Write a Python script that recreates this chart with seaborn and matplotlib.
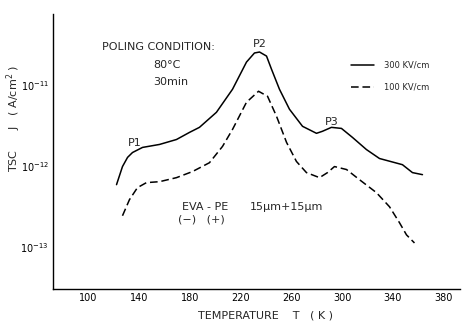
import matplotlib
matplotlib.use("Agg")
import matplotlib.pyplot as plt
import seaborn as sns
import pandas as pd
from matplotlib.ticker import FixedLocator, NullLocator, FixedFormatter

# --- data ---
temp_300 = [122.1, 126.8, 130.8, 134.7, 142.6, 156.0, 169.4, 179.7, 187.5, 200.9,
            213.6, 224.6, 230.9, 234.9, 240.4, 244.3, 250.6, 258.5, 268.8, 279.8,
            284.5, 291.6, 299.5, 308.2, 319.2, 329.5, 347.6, 355.5, 363.4]
j_300 = [5.89e-13, 9.86e-13, 1.28e-12, 1.47e-12, 1.70e-12, 1.85e-12, 2.13e-12, 2.61e-12,
         3.01e-12, 4.62e-12, 8.91e-12, 1.93e-11, 2.50e-11, 2.57e-11, 2.29e-11, 1.58e-11,
         8.91e-12, 5.04e-12, 3.10e-12, 2.54e-12, 2.69e-12, 3.01e-12, 2.92e-12, 2.26e-12,
         1.60e-12, 1.24e-12, 1.04e-12, 8.30e-13, 7.83e-13]

temp_100 = [126.8, 132.3, 138.6, 145.7, 156.0, 169.4, 182.0, 195.4, 205.7, 213.6,
            224.6, 234.1, 241.2, 248.3, 256.2, 264.0, 271.9, 282.2, 288.5, 294.0,
            303.5, 313.7, 327.1, 337.4, 345.3, 350.8, 357.1]
j_100 = [2.43e-13, 3.84e-13, 5.41e-13, 6.24e-13, 6.41e-13, 7.19e-13, 8.55e-13, 1.10e-12,
         1.75e-12, 2.84e-12, 6.15e-12, 8.41e-12, 7.29e-12, 4.12e-12, 1.96e-12, 1.14e-12,
         8.30e-13, 7.19e-13, 8.30e-13, 9.86e-13, 9.06e-13, 6.79e-13, 4.69e-13, 3.14e-13,
         1.99e-13, 1.41e-13, 1.12e-13]

series_labels = ["300 KV/cm", "100 KV/cm"]
x_ticks = [100, 140, 180, 220, 260, 300, 340, 380]
y_ticks = [1e-13, 1e-12, 1e-11]
y_tick_labels = ["10$^{-13}$", "10$^{-12}$", "10$^{-11}$"]

df = pd.concat([
    pd.DataFrame({"T": temp_300, "J": j_300, "field": series_labels[0]}),
    pd.DataFrame({"T": temp_100, "J": j_100, "field": series_labels[1]}),
], ignore_index=True)

sns.set_style("white")
plt.rcParams["font.family"] = ["DejaVu Sans"]
plt.rcParams["lines.solid_joinstyle"] = "round"
plt.rcParams["lines.dash_joinstyle"] = "round"

W, H = 465, 326
fig = plt.figure(figsize=(W / 100, H / 100), dpi=100)
left, right, top, bottom = 53, 460, 14, 289
ax = fig.add_axes([left / W, (H - bottom) / H, (right - left) / W, (bottom - top) / H])

sns.lineplot(data=df, x="T", y="J", style="field", color="black",
             dashes={series_labels[0]: "", series_labels[1]: (5, 2.5)},
             linewidth=1.1, sort=False, ax=ax, legend=True)

ax.set_yscale("log")
ax.set_xlim(72, 393)
ax.set_ylim(10 ** -13.52, 10 ** -10.12)
ax.xaxis.set_major_locator(FixedLocator(x_ticks))
ax.yaxis.set_major_locator(FixedLocator(y_ticks))
ax.yaxis.set_major_formatter(FixedFormatter(y_tick_labels))
ax.yaxis.set_minor_locator(NullLocator())
ax.tick_params(direction="in", length=4, width=0.8, labelsize=7, colors="black", pad=3)
for s in ["top", "right"]:
    ax.spines[s].set_visible(False)
for s in ["left", "bottom"]:
    ax.spines[s].set_color("black")
    ax.spines[s].set_linewidth(1.0)
ax.set_xlabel("")
ax.set_ylabel("")

# legend
leg = ax.legend(frameon=False, fontsize=6, handlelength=2.8, handletextpad=1.2,
                labelspacing=1.6, loc="upper left",
                bbox_to_anchor=(343 / W, (H - 53) / H), bbox_transform=fig.transFigure)
leg.set_title(None)

def ftext(x, y, s, **kw):
    fig.text(x / W, 1 - y / H, s, **kw)

ftext(102, 47, "POLING CONDITION:", fontsize=8, va="center", ha="left")
ftext(153, 65, "80°C", fontsize=8, va="center", ha="left")
ftext(153, 82, "30min", fontsize=8, va="center", ha="left")
ftext(260, 44, "P2", fontsize=8, va="center", ha="center")
ftext(135, 143, "P1", fontsize=8, va="center", ha="center")
ftext(332, 122, "P3", fontsize=8, va="center", ha="center")
ftext(182, 207, "EVA - PE", fontsize=8, va="center", ha="left")
ftext(250, 207, "15μm+15μm", fontsize=8, va="center", ha="left")
ftext(178, 219, "(−)   (+)", fontsize=8, va="center", ha="left")

ftext(265, 316, "TEMPERATURE    T   ( K )", fontsize=8, va="center", ha="center")
ftext(14, 118, "TSC      J   ( A/cm$^2$ )", fontsize=8, va="center", ha="center", rotation=90)

fig.savefig("out.png", dpi=100)
